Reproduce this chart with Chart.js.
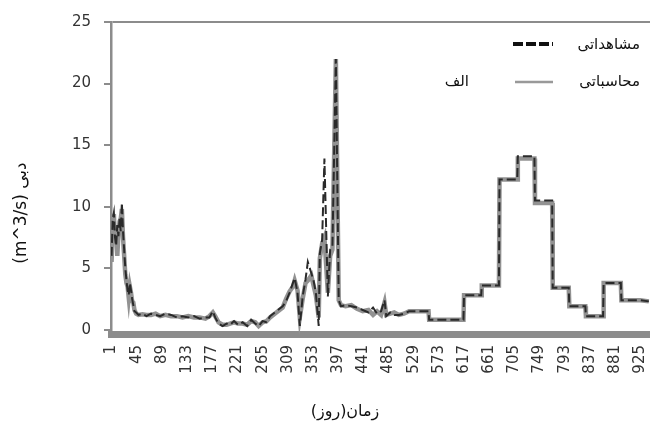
<!DOCTYPE html>
<html><head><meta charset="utf-8">
<script src="https://cdn.jsdelivr.net/npm/chart.js@4"></script>
<style>html,body{margin:0;padding:0;background:#fff}#wrap{width:650px;height:427px}</style>
</head><body><div id="wrap"><canvas id="c" width="650" height="427"></canvas></div>
<script>
// ---- data ----
const days = [1,3,5,7,9,11,13,15,17,19,21,23,25,27,29,31,33,35,37,39,41,44,48,55,62,70,78,86,95,105,115,125,135,145,155,165,172,178,182,188,195,202,208,215,222,230,238,245,252,258,265,272,278,289,300,306,312,318,321,326,330,335,340,344,350,354,358,363,365,369,373,379,383,387,393,398,402,410,420,430,440,450,458,465,472,478,481,488,495,503,512,521,533,550,555,556,616,617,647,648,678,679,710,711,740,741,771,772,800,801,829,830,860,861,891,892,925,940];
const observed = [6.0,9.0,9.5,7.5,6.8,8.5,7.6,9.0,8.0,10.3,8.0,6.5,5.0,4.0,3.2,2.8,3.8,3.2,2.5,2.0,1.5,1.4,1.2,1.3,1.1,1.3,1.2,1.1,1.3,1.2,1.0,1.1,1.0,1.1,0.9,1.0,1.0,1.5,1.0,0.5,0.3,0.5,0.4,0.7,0.4,0.6,0.3,0.8,0.5,0.3,0.7,0.6,1.1,1.5,1.9,2.3,3.0,3.8,4.2,3.0,0.3,2.7,4.1,5.5,4.6,4.0,3.0,0.3,6.2,7.3,13.9,2.7,6.5,6.8,22.0,2.4,1.9,2.0,1.9,1.8,1.6,1.4,1.8,1.3,1.5,2.4,1.1,1.4,1.2,1.2,1.3,1.5,1.5,1.5,1.5,0.8,0.8,2.8,2.8,3.6,3.6,12.2,12.2,14.1,14.1,10.5,10.5,3.4,3.4,1.9,1.9,1.1,1.1,3.8,3.8,2.4,2.4,2.3];
const computed = [5.5,8.0,9.4,7.0,8.5,6.0,7.8,8.8,9.0,9.8,7.5,6.0,4.5,3.8,3.5,2.6,3.5,3.0,2.3,2.2,1.6,1.3,1.2,1.25,1.2,1.2,1.3,1.1,1.2,1.1,1.1,1.0,1.1,1.0,1.0,0.9,1.1,1.4,1.1,0.6,0.4,0.4,0.5,0.6,0.5,0.5,0.4,0.7,0.6,0.3,0.6,0.7,1.0,1.4,1.8,2.5,3.1,3.5,4.0,3.2,1.0,2.5,3.8,4.0,4.4,3.6,2.8,1.0,5.8,7.0,7.5,3.0,6.0,6.5,22.0,2.4,2.0,1.9,2.0,1.7,1.5,1.6,1.2,1.5,1.2,2.2,1.2,1.3,1.4,1.2,1.3,1.5,1.5,1.5,1.5,0.8,0.8,2.8,2.8,3.6,3.6,12.2,12.2,13.9,13.9,10.3,10.3,3.4,3.4,1.9,1.9,1.1,1.1,3.8,3.8,2.4,2.4,2.3];
const xTickLabels = [1,45,89,133,177,221,265,309,353,397,441,485,529,573,617,661,705,749,793,837,881,925];
const yTickLabels = [0,5,10,15,20,25];
const seriesNames = ['مشاهداتی','محاسباتی'];
const panelLabel = 'الف';
const xTitle = 'زمان(روز)';
const yTitle = 'دبی (m^3/s)';

const AXIS = '#8c8c8c';
const TXT = '#333333';
const FA = '"DejaVu Sans", sans-serif';

const textPlugin = {
  id: 'texts',
  afterDraw(chart) {
    const ctx = chart.ctx;
    ctx.save();
    ctx.fillStyle = '#111';
    ctx.direction = 'rtl';
    ctx.textBaseline = 'middle';
    // legend
    ctx.font = '15px ' + FA;
    ctx.textAlign = 'right';
    ctx.fillText(seriesNames[0], 640, 45);
    ctx.fillText(seriesNames[1], 640, 82);
    ctx.fillText(panelLabel, 469, 82);
    ctx.lineWidth = 4; ctx.strokeStyle = '#111'; ctx.setLineDash([10, 3]);
    ctx.beginPath(); ctx.moveTo(513, 44); ctx.lineTo(553, 44); ctx.stroke();
    ctx.lineWidth = 2.5; ctx.strokeStyle = '#999999'; ctx.setLineDash([]);
    ctx.beginPath(); ctx.moveTo(515, 82); ctx.lineTo(553, 82); ctx.stroke();
    // x title
    ctx.font = '16px ' + FA;
    ctx.textAlign = 'center';
    ctx.fillText(xTitle, 345, 412);
    // y title
    ctx.font = '17px ' + FA;
    ctx.translate(22, 213);
    ctx.rotate(-Math.PI / 2);
    ctx.fillText(yTitle, 0, 0);
    ctx.restore();
  }
};

new Chart(document.getElementById('c'), {
  type: 'line',
  data: {
    datasets: [
      { label: seriesNames[0], data: days.map((d, i) => ({x: d, y: observed[i]})),
        borderColor: '#2a2a2a', borderWidth: 2, borderDash: [9, 4], pointRadius: 0, tension: 0, fill: false, order: 0 },
      { label: seriesNames[1], data: days.map((d, i) => ({x: d, y: computed[i]})),
        borderColor: '#929292', borderWidth: 4.5, pointRadius: 0, tension: 0, fill: false, order: 1 }
    ]
  },
  options: {
    responsive: false, devicePixelRatio: 1, animation: false,
    layout: { padding: { top: 22, left: 0, right: 0, bottom: 0 } },
    plugins: { legend: { display: false }, tooltip: { enabled: false } },
    scales: {
      x: {
        type: 'linear', min: 0, max: 942,
        afterBuildTicks: s => { s.ticks = xTickLabels.map(v => ({value: v})); },
        afterFit: s => { s.height = 93; s.paddingLeft = 0; s.paddingRight = 0; },
        ticks: { autoSkip: false, minRotation: 90, maxRotation: 90, padding: 11, color: TXT,
                 font: { family: 'DejaVu Sans', size: 15 }, callback: v => String(v) },
        grid: { display: true, drawOnChartArea: false, drawTicks: false, color: 'rgba(0,0,0,0)' },
        border: { display: true, width: 7, color: AXIS }
      },
      y: {
        type: 'linear', min: -0.35, max: 25,
        afterBuildTicks: s => { s.ticks = yTickLabels.map(v => ({value: v})); },
        afterFit: s => { s.width = 111; s.paddingTop = 0; s.paddingBottom = 0; },
        ticks: { padding: 13, color: TXT, font: { family: 'DejaVu Sans', size: 15 }, callback: v => String(v) },
        grid: { color: c => (c.tick && c.tick.value === 25) ? AXIS : 'rgba(0,0,0,0)', tickColor: AXIS,
                tickLength: 7, lineWidth: 2 },
        border: { display: true, width: 2.5, color: AXIS }
      }
    }
  },
  plugins: [textPlugin]
});
</script>
</body></html>
